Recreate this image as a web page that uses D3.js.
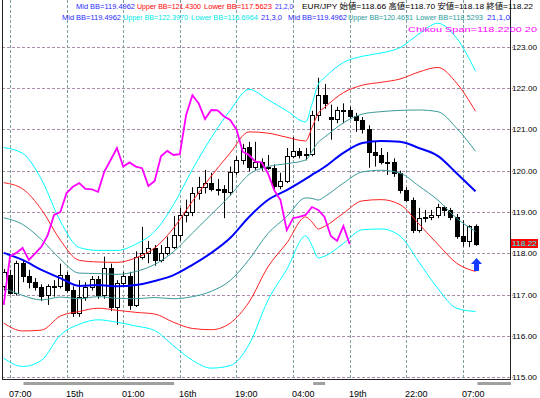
<!DOCTYPE html>
<html>
<head>
<meta charset="utf-8">
<script src="https://cdn.jsdelivr.net/npm/d3@7"></script>
<style>
  body { margin: 0; background: #fff; }
  svg { display: block; }
</style>
</head>
<body>
<div id="chart"></div>
<script>
// EUR/JPY bars, index 0..75 (left to right)
const opens = [
  117.20, 117.47, 117.05, 117.77, 117.46, 117.31, 117.18, 116.98, 117.20, 117.22,
  117.47, 117.11, 116.55, 116.93, 117.19, 117.38, 116.98, 117.64, 116.71, 117.29,
  117.45, 116.75, 117.92, 118.01, 118.13, 117.84, 118.00, 118.16, 118.44, 118.93,
  119.00, 119.46, 119.61, 119.70, 119.56, 119.55, 119.49, 119.98, 120.26, 120.57,
  120.10, 120.22, 120.10, 120.06, 119.63, 119.75, 120.35, 120.48, 120.38, 120.40,
  121.35, 121.83, 121.30, 121.25, 121.47, 121.46, 121.32, 121.23, 121.00, 120.46,
  120.38, 120.22, 120.20, 119.94, 119.53, 119.29, 118.56, 118.85, 118.88, 118.93,
  119.12, 119.05, 118.88, 118.42, 118.30, 118.66
];
const highs = [
  117.62, 117.60, 117.82, 117.82, 117.60, 117.40, 117.25, 117.25, 117.35, 117.75,
  117.55, 117.20, 117.35, 117.30, 117.45, 117.45, 117.92, 117.75, 117.35, 117.55,
  117.55, 118.05, 118.64, 118.30, 118.20, 118.20, 118.40, 118.90, 119.10, 119.30,
  119.60, 119.85, 120.02, 119.95, 119.80, 119.65, 120.10, 120.35, 120.65, 120.70,
  120.70, 120.30, 120.38, 120.15, 119.95, 120.55, 120.82, 120.55, 120.55, 121.45,
  122.25, 122.10, 121.60, 121.55, 121.63, 121.55, 121.40, 121.30, 121.10, 120.70,
  120.55, 120.45, 120.30, 120.00, 119.60, 119.35, 119.10, 119.05, 119.05, 119.20,
  119.15, 119.10, 118.95, 118.80, 118.68, 118.70
];
const lows = [
  117.10, 117.00, 116.98, 117.30, 117.15, 117.10, 116.85, 116.75, 116.95, 117.15,
  117.05, 116.46, 116.46, 116.85, 117.10, 116.90, 116.90, 116.60, 116.27, 117.20,
  116.63, 116.70, 117.85, 117.76, 117.70, 117.78, 117.95, 118.10, 118.30, 118.75,
  118.90, 119.30, 119.45, 119.50, 119.40, 118.85, 119.40, 119.90, 120.15, 119.98,
  120.02, 120.00, 120.02, 119.55, 119.55, 119.70, 120.30, 120.30, 120.25, 120.35,
  121.20, 121.50, 120.75, 121.15, 121.15, 121.25, 120.94, 120.90, 120.07, 120.10,
  120.15, 119.90, 119.85, 119.45, 119.25, 118.49, 118.50, 118.75, 118.80, 118.85,
  118.90, 118.80, 118.35, 118.16, 118.15, 118.18
];
const closes = [
  117.55, 117.05, 117.77, 117.46, 117.30, 117.18, 116.97, 117.20, 117.22, 117.47,
  117.11, 116.55, 116.93, 117.19, 117.38, 116.98, 117.64, 116.71, 117.29, 117.45,
  116.75, 117.92, 118.01, 118.13, 117.84, 118.00, 118.16, 118.44, 118.93, 119.00,
  119.46, 119.61, 119.70, 119.56, 119.55, 119.49, 119.98, 120.26, 120.55, 120.10,
  120.20, 120.10, 120.06, 119.63, 119.75, 120.35, 120.48, 120.38, 120.40, 121.35,
  121.83, 121.63, 121.25, 121.47, 121.46, 121.32, 121.23, 121.00, 120.46, 120.38,
  120.22, 120.20, 119.94, 119.53, 119.29, 118.56, 118.85, 118.88, 118.93, 119.12,
  119.05, 118.88, 118.42, 118.30, 118.66, 118.22
];

// Bollinger(21) middle line and deviation at these bars
const bandIdx = [0, 3, 6, 9, 12, 15, 18, 21, 24, 27, 30, 33, 36, 39, 42, 45, 48, 49, 50, 51, 54, 57, 60, 63, 66, 69, 72, 75];
const bandMid = [118.01, 117.84, 117.60, 117.40, 117.21, 117.23, 117.20, 117.23, 117.33, 117.47,
  117.72, 118.01, 118.37, 118.88, 119.29, 119.53, 119.80, 119.90, 119.99, 120.09,
  120.43, 120.67, 120.72, 120.70, 120.55, 120.36, 119.94, 119.50];
const bandSd = [0.85, 0.86, 0.73, 0.46, 0.31, 0.28, 0.29, 0.33, 0.40, 0.57,
  0.77, 0.93, 1.03, 1.03, 0.81, 0.64, 0.46, 0.57, 0.70, 0.72,
  0.73, 0.70, 0.71, 0.76, 0.92, 1.07, 1.09, 0.97];
const chikouShift = 20;

const priceTicks = [115, 116, 117, 118, 119, 120, 121, 122, 123];
const timeLabels = ['07:00', '15th', '01:00', '16th', '19:00', '04:00', '19th', '22:00', '07:00'];
const timeIdx = [1, 10, 19, 28, 37, 46, 55, 64, 73];
const sessionBars = [[3.15, 27.1], [49.2, 51.1], [75.3, 80.8]];
const signals = [{ idx: 75, price: 117.89 }];

// indicator readouts, one list per header row
const headerRows = [
  [
    { t: 'Mid BB=119.4962', x: 76, w: 59, c: '#2a2aff' },
    { t: 'Upper BB=121.4300', x: 137, w: 64, c: '#ff0000' },
    { t: 'Lower BB=117.5623', x: 204, w: 68, c: '#ff0000' },
    { t: '21,2,0', x: 275, w: 18, c: '#2a2aff' },
    { t: 'EUR/JPY 始値=118.66 高値=118.70 安値=118.18 終値=118.22', x: 302, w: 231, c: '#000000' }
  ],
  [
    { t: 'Mid BB=119.4962', x: 62, w: 59, c: '#2a2aff' },
    { t: 'Upper BB=122.3970', x: 123, w: 65, c: '#00e8e8' },
    { t: 'Lower BB=116.6964', x: 191, w: 67, c: '#00e8e8' },
    { t: '21,3,0', x: 261, w: 21, c: '#2a2aff' },
    { t: 'Mid BB=119.4962', x: 288, w: 59, c: '#2a2aff' },
    { t: 'Upper BB=120.4631', x: 348, w: 65, c: '#2a9a9a' },
    { t: 'Lower BB=118.5293', x: 416, w: 67, c: '#2a9a9a' },
    { t: '21,1,0', x: 487, w: 23, c: '#2a2aff' }
  ],
  [
    { t: 'Chikou Span=118.2200  20', x: 408, w: 129, c: '#ff00ff' }
  ]
];

const width = 540;
const height = 398;
const plot = { left: 2, right: 510, top: 0, bottom: 379 };
const font = '"Liberation Sans", Arial, "Noto Sans CJK JP", sans-serif';

const svg = d3.select('#chart').append('svg')
  .attr('width', width)
  .attr('height', height);

svg.append('rect').attr('width', width).attr('height', height).attr('fill', '#fff');

svg.append('clipPath').attr('id', 'plotClip')
  .append('rect')
  .attr('x', plot.left).attr('y', plot.top)
  .attr('width', plot.right - plot.left).attr('height', plot.bottom - plot.top);

const x = d3.scaleLinear().domain([0, 75]).range([3.7, 475.5]);
const y = d3.scaleLinear().domain([115, 123]).range([377.2, 46.8]);
const px = (v) => Math.round(v) + 0.5;

// grid
svg.append('g').selectAll('line')
  .data(priceTicks)
  .join('line')
  .attr('x1', plot.left).attr('x2', plot.right + 3)
  .attr('y1', (d) => px(y(d))).attr('y2', (d) => px(y(d)))
  .attr('stroke', '#a88ca8')
  .attr('stroke-dasharray', '3,2');

svg.append('g').selectAll('line')
  .data(timeIdx)
  .join('line')
  .attr('x1', (d) => px(x(d))).attr('x2', (d) => px(x(d)))
  .attr('y1', plot.top).attr('y2', plot.bottom)
  .attr('stroke', '#7f9f9f')
  .attr('stroke-dasharray', '3,2');

const chart = svg.append('g').attr('clip-path', 'url(#plotClip)');

// candles
const candles = chart.append('g');
d3.range(closes.length).forEach((i) => {
  const cx = Math.round(x(i));
  const top = Math.round(y(Math.max(opens[i], closes[i])));
  const bot = Math.round(y(Math.min(opens[i], closes[i])));
  candles.append('line')
    .attr('x1', cx + 0.5).attr('x2', cx + 0.5)
    .attr('y1', y(highs[i])).attr('y2', y(lows[i]))
    .attr('stroke', '#000');
  candles.append('rect')
    .attr('x', cx - 1.5)
    .attr('y', top + 0.5)
    .attr('width', 4)
    .attr('height', Math.max(bot - top, 1))
    .attr('fill', closes[i] < opens[i] ? '#000' : '#fff')
    .attr('stroke', '#000');
});

// bollinger bands
const line = d3.line()
  .x((d) => x(d[0]))
  .y((d) => y(d[1]))
  .curve(d3.curveMonotoneX);

const bandStyles = [
  { k: 3, color: '#00ffff' },
  { k: 2, color: '#ff2020' },
  { k: 1, color: '#3a9a9a' }
];
bandStyles.forEach((b) => {
  [1, -1].forEach((s) => {
    chart.append('path')
      .datum(bandIdx.map((idx, j) => [idx, bandMid[j] + s * b.k * bandSd[j]]))
      .attr('fill', 'none')
      .attr('stroke', b.color)
      .attr('stroke-width', 1)
      .attr('d', line);
  });
});

chart.append('path')
  .datum(bandIdx.map((idx, j) => [idx, bandMid[j]]))
  .attr('fill', 'none')
  .attr('stroke', '#0000ff')
  .attr('stroke-width', 2)
  .attr('d', line);

// chikou span: closes drawn shifted back
chart.append('path')
  .datum(closes.slice(chikouShift).map((c, j) => [j, c]))
  .attr('fill', 'none')
  .attr('stroke', '#ff00ff')
  .attr('stroke-width', 1.8)
  .attr('d', d3.line().x((d) => x(d[0])).y((d) => y(d[1])));

// signal arrows
chart.selectAll('path.signal')
  .data(signals)
  .join('path')
  .attr('class', 'signal')
  .attr('fill', '#1438ff')
  .attr('d', (d) => {
    const cx = Math.round(x(d.idx)) + 0.5;
    const ty = Math.round(y(d.price));
    return `M${cx},${ty} L${cx + 5.5},${ty + 6} L${cx + 2.5},${ty + 6} L${cx + 2.5},${ty + 13}`
      + ` L${cx - 2.5},${ty + 13} L${cx - 2.5},${ty + 6} L${cx - 5.5},${ty + 6} Z`;
  });

// frame
const frame = svg.append('g').attr('stroke', '#222').attr('shape-rendering', 'crispEdges');
frame.append('line').attr('x1', plot.left + 0.5).attr('x2', plot.left + 0.5).attr('y1', 0).attr('y2', plot.bottom);
frame.append('line').attr('x1', plot.right + 0.5).attr('x2', plot.right + 0.5).attr('y1', 0).attr('y2', plot.bottom + 1);
frame.append('line').attr('x1', plot.left).attr('x2', plot.right + 1).attr('y1', plot.bottom + 0.5).attr('y2', plot.bottom + 0.5);

// price labels
svg.append('g').selectAll('text')
  .data(priceTicks)
  .join('text')
  .attr('x', plot.right + 2)
  .attr('y', (d) => Math.round(y(d)) + 2.6)
  .attr('font-family', font)
  .attr('font-size', 8)
  .attr('fill', '#000')
  .attr('textLength', 25)
  .attr('lengthAdjust', 'spacingAndGlyphs')
  .text((d) => d.toFixed(2));

const last = closes[closes.length - 1];
const ly = Math.round(y(last));
svg.append('rect')
  .attr('x', plot.right + 1).attr('y', ly - 5)
  .attr('width', 27).attr('height', 9)
  .attr('fill', '#ff0000');
svg.append('text')
  .attr('x', plot.right + 2).attr('y', ly + 2.4)
  .attr('font-family', font).attr('font-size', 8)
  .attr('fill', '#00ffff')
  .attr('textLength', 25)
  .attr('lengthAdjust', 'spacingAndGlyphs')
  .text(last.toFixed(2));

// session bars under the axis
svg.append('g').selectAll('rect')
  .data(sessionBars)
  .join('rect')
  .attr('x', (d) => x(d[0]))
  .attr('width', (d) => Math.min(x(d[1]), plot.right + 1) - x(d[0]))
  .attr('y', plot.bottom + 3)
  .attr('height', 3)
  .attr('fill', '#a0a0a0');

// time labels
svg.append('g').selectAll('text')
  .data(timeIdx)
  .join('text')
  .attr('x', (d) => Math.round(x(d)) - 1)
  .attr('y', 397)
  .attr('font-family', font)
  .attr('font-size', 9)
  .attr('fill', '#000')
  .text((d, i) => timeLabels[i]);

// header readouts: one text per row, coloured spans
const rowY = [9, 20, 32];
svg.append('g').selectAll('text')
  .data(headerRows)
  .join('text')
  .attr('y', (d, i) => rowY[i])
  .attr('font-family', font)
  .attr('font-size', 7.5)
  .selectAll('tspan')
  .data((d) => d)
  .join('tspan')
  .attr('x', (d) => d.x)
  .attr('fill', (d) => d.c)
  .attr('textLength', (d) => d.w)
  .attr('lengthAdjust', 'spacingAndGlyphs')
  .text((d) => d.t);
</script>
</body>
</html>
